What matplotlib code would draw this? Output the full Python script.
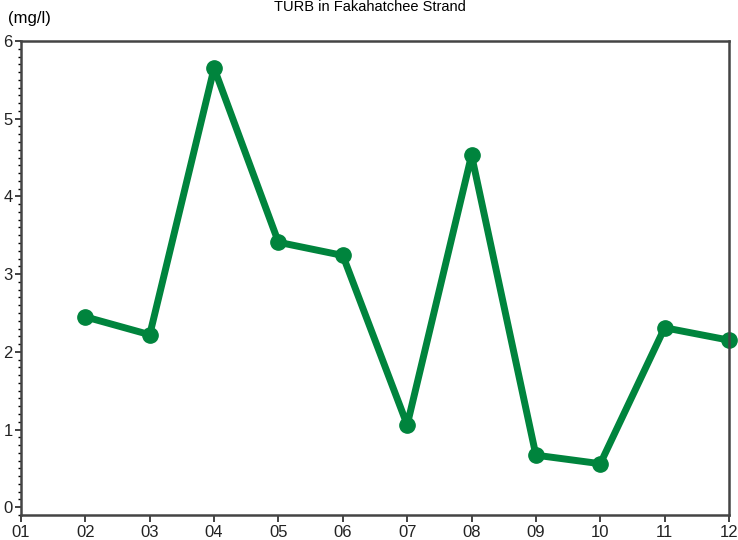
import numpy as np
import matplotlib.pyplot as plt
from matplotlib.ticker import MultipleLocator

plt.rcParams['font.family'] = ['Liberation Sans', 'DejaVu Sans']

months = [2, 3, 4, 5, 6, 7, 8, 9, 10, 11, 12]
turb = [2.45, 2.22, 5.65, 3.41, 3.24, 1.06, 4.53, 0.67, 0.56, 2.31, 2.15]
xlabels = ['01', '02', '03', '04', '05', '06', '07', '08', '09', '10', '11', '12']

fig = plt.figure(figsize=(7.38, 5.4), dpi=100)
ax = fig.add_axes([21/738, 25/540, 708/738, 474/540])

ax.plot(months, turb, color='#00843d', lw=5, marker='o', ms=11, solid_joinstyle='round',
        clip_on=False)

ax.set_xlim(1, 12)
ax.set_ylim(-0.1, 6)
ax.set_xticks(range(1, 13))
ax.set_xticklabels(xlabels)
ax.set_yticks(range(0, 7))
ax.yaxis.set_minor_locator(MultipleLocator(0.1))
ax.tick_params(axis='both', labelsize=12, colors='#222222', width=1.2)
ax.tick_params(axis='y', which='major', length=4, pad=2)
ax.tick_params(axis='y', which='minor', length=2.5, width=1)
ax.tick_params(axis='x', length=5, pad=2)
for s in ax.spines.values():
    s.set_linewidth(1.8)
    s.set_color('#444444')

fig.text(8/738, 1 - 19/540, '(mg/l)', fontsize=12, va='center', ha='left')
fig.text(370/738, 1 - 7/540, 'TURB in Fakahatchee Strand', fontsize=10.5, va='center', ha='center')

fig.savefig('out.png', dpi=100)
